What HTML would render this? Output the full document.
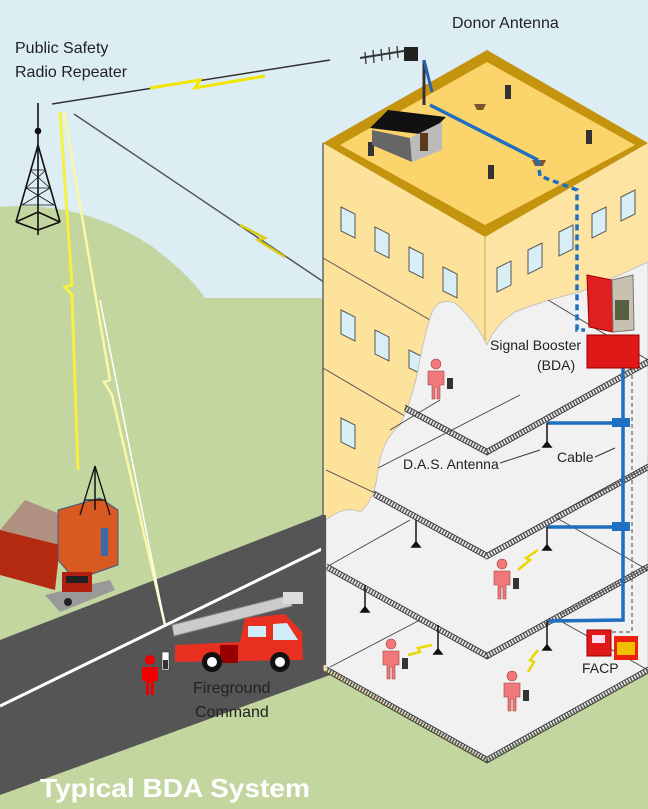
<!DOCTYPE html>
<html><head><meta charset="utf-8"><style>
html,body{margin:0;padding:0;background:#dcedf3}
svg{display:block}
text{font-family:"Liberation Sans",sans-serif;fill:#222}
</style></head><body>
<svg width="648" height="809" viewBox="0 0 648 809" xmlns="http://www.w3.org/2000/svg">
<rect width="648" height="809" fill="#dcedf3"/>
<path d="M0,207 Q80,200 150,245 Q190,275 205,298 L648,298 L648,809 L0,809 Z" fill="#c3d6a0"/>
<polygon points="0,640 330,512 330,675 0,795" fill="#555"/>
<line x1="0" y1="706" x2="330" y2="545" stroke="#fff" stroke-width="3"/>

<g stroke="#111" stroke-width="1.6" fill="none">
<line x1="38" y1="103" x2="38" y2="145"/>
<circle cx="38" cy="131" r="2.5" fill="#111"/>
<path d="M38,145 L16,222 M38,145 L60,222 M38,145 L38,235 M16,222 L38,212 L60,222 M16,222 L38,230 L60,222"/>
<path d="M30,170 L46,170 M26,188 L50,188 M22,205 L54,205 M30,170 L50,188 L22,205 M46,170 L26,188 L54,205" stroke-width="0.8"/>
</g>
<line x1="52" y1="104" x2="330" y2="60" stroke="#333" stroke-width="1.5"/>
<polyline points="150,88 200,80 195,88 265,76" fill="none" stroke="#f2e600" stroke-width="3"/>
<line x1="74" y1="114" x2="410" y2="340" stroke="#555" stroke-width="1.5"/>
<polyline points="240,225 265,238 258,240 285,257" fill="none" stroke="#d8cc10" stroke-width="2.5"/>
<polyline points="60,112 72,285 65,287 72,295 78,470" fill="none" stroke="#f6f040" stroke-width="3"/>
<polyline points="64,112 110,380 104,382 112,395 165,625" fill="none" stroke="#fbf7a8" stroke-width="2.5"/>
<line x1="100" y1="300" x2="165" y2="625" stroke="#fff" stroke-width="1.5"/>

<polygon points="323,143 485,237 485,760 323,670" fill="#fde29c"/>
<polygon points="485,237 648,143 648,670 485,760" fill="#fde4a2"/>
<line x1="485" y1="237" x2="485" y2="350" stroke="#caa860" stroke-width="1"/>
<line x1="323" y1="143" x2="323" y2="670" stroke="#666" stroke-width="1.5"/>
<line x1="323" y1="258" x2="430" y2="320" stroke="#555" stroke-width="1"/>
<line x1="323" y1="368" x2="420" y2="425" stroke="#555" stroke-width="1"/>
<polygon points="323,143 487,50 648,143 485,237" fill="#c4940f"/>
<polygon points="340,145 487,62 635,145 485,225" fill="#fcd46c"/>
<g fill="#d8eef5" stroke="#555" stroke-width="1">
<polygon points="341,207 355,214 355,238 341,231"/>
<polygon points="375,227 389,234 389,258 375,251"/>
<polygon points="409,247 423,254 423,278 409,271"/>
<polygon points="443,267 457,274 457,298 443,291"/>
<polygon points="341,310 355,317 355,341 341,334"/>
<polygon points="375,330 389,337 389,361 375,354"/>
<polygon points="409,350 423,357 423,375 409,368"/>
<polygon points="341,418 355,425 355,449 341,442"/>
<polygon points="497,268 511,261 511,285 497,292"/>
<polygon points="528,250 542,243 542,267 528,274"/>
<polygon points="559,232 573,225 573,249 559,256"/>
<polygon points="592,214 606,207 606,231 592,238"/>
<polygon points="621,197 635,190 635,214 621,221"/>
</g>
<path d="M326,520 Q345,505 360,512 Q375,500 378,470 Q382,440 400,425 Q412,400 418,370 Q425,330 433,310 Q440,298 455,303 Q475,320 487,345 Q495,325 515,312 Q545,300 580,292 Q620,275 648,262 L648,672 L487,760 L326,668 Z" fill="#f1f1f1" stroke="#bbb" stroke-width="0.8"/>
<rect x="321" y="515" width="5" height="150" fill="#555"/>
<g stroke="#444" stroke-width="0.9">
<line x1="548" y1="300" x2="648" y2="360"/>
<line x1="390" y1="430" x2="440" y2="400"/>
<line x1="326" y1="470" x2="375" y2="493"/>
<line x1="378" y1="468" x2="520" y2="395"/>
<line x1="555" y1="515" x2="648" y2="467"/>
<line x1="330" y1="565" x2="410" y2="520"/>
<line x1="555" y1="517" x2="648" y2="570"/>
<line x1="330" y1="667" x2="420" y2="620"/>
<line x1="555" y1="618" x2="648" y2="670"/>
<line x1="560" y1="615" x2="648" y2="567"/>
</g>
<g fill="none" stroke="#555" stroke-width="5" stroke-dasharray="1.5 1.5">
<polyline points="405,408 487,452 648,362"/>
<polyline points="374,494 487,556 648,467"/>
<polyline points="327,567 487,656 648,567"/>
<polyline points="327,670 487,760 648,670"/>
</g>
<g fill="none" stroke="#333" stroke-width="0.8">
<polyline points="405,405 487,449 648,359"/><polyline points="405,411 487,455 648,365"/>
<polyline points="374,491 487,553 648,464"/><polyline points="374,497 487,559 648,470"/>
<polyline points="327,564 487,653 648,564"/><polyline points="327,570 487,659 648,570"/>
<polyline points="327,667 487,757 648,667"/><polyline points="327,673 487,763 648,673"/>
</g>

<g fill="#333">
<rect x="368" y="142" width="6" height="14"/><rect x="488" y="165" width="6" height="14"/>
<rect x="505" y="85" width="6" height="14"/><rect x="586" y="130" width="6" height="14"/>
</g>
<path d="M474,104 L486,104 L483,110 L477,110Z M532,160 L546,160 L543,166 L535,166Z" fill="#7a5530"/>
<polygon points="370,128 388,110 446,117 428,135" fill="#111"/>
<polygon points="372,130 410,138 412,162 372,145" fill="#666"/>
<polygon points="410,138 442,122 442,150 412,162" fill="#bbb"/>
<rect x="420" y="133" width="8" height="18" fill="#5a3a1a"/>
<line x1="424" y1="60" x2="424" y2="105" stroke="#333" stroke-width="3"/>
<path d="M424,60 L432,92" stroke="#2a62b0" stroke-width="3" fill="none"/>
<line x1="360" y1="58" x2="410" y2="50" stroke="#333" stroke-width="2"/>
<g stroke="#333" stroke-width="1.3"><line x1="365" y1="52" x2="366" y2="64"/><line x1="373" y1="50" x2="374" y2="63"/><line x1="381" y1="49" x2="382" y2="61"/><line x1="389" y1="47" x2="390" y2="60"/><line x1="397" y1="46" x2="398" y2="58"/></g>
<rect x="404" y="47" width="14" height="14" fill="#222"/>
<g fill="none" stroke="#1f6fc0" stroke-width="3.5">
<path d="M430,105 L538,160"/>
<path d="M538,160 L540,176 L577,190 L577,330 L585,330" stroke-dasharray="6 4"/>
<path d="M623,368 L623,620 L548,621"/>
<path d="M623,423 L547,423 M623,527 L547,527"/>
</g>
<g fill="#1f6fc0"><rect x="612" y="418" width="18" height="9"/><rect x="612" y="522" width="18" height="9"/></g>
<path d="M632,368 L632,632 L610,632" fill="none" stroke="#666" stroke-width="1.2" stroke-dasharray="4 3"/>
<polygon points="587,275 612,280 613,332 589,327" fill="#e02020" stroke="#900"/>
<polygon points="612,280 633,275 634,330 613,332" fill="#c8c0b0" stroke="#777"/>
<rect x="615" y="300" width="14" height="20" fill="#576040"/>
<rect x="587" y="335" width="52" height="33" fill="#e01818" stroke="#900"/>
<rect x="587" y="630" width="24" height="26" fill="#e01818" stroke="#900"/>
<rect x="592" y="635" width="13" height="8" fill="#fde"/>
<rect x="614" y="636" width="24" height="24" fill="#f02010"/>
<rect x="617" y="642" width="18" height="13" fill="#f0c000"/>
<g stroke="#111" stroke-width="1.5" fill="#111">
<line x1="547" y1="423" x2="547" y2="445"/><path d="M543,447 L547,442 L551,447Z"/>
<line x1="547" y1="527" x2="547" y2="548"/><path d="M543,550 L547,545 L551,550Z"/>
<line x1="547" y1="621" x2="547" y2="648"/><path d="M543,650 L547,645 L551,650Z"/>
<line x1="416" y1="520" x2="416" y2="545"/><path d="M412,547 L416,542 L420,547Z"/>
<line x1="365" y1="585" x2="365" y2="610"/><path d="M361,612 L365,607 L369,612Z"/>
<line x1="438" y1="625" x2="438" y2="652"/><path d="M434,654 L438,649 L442,654Z"/>
</g>
<line x1="500" y1="463" x2="540" y2="450" stroke="#333" stroke-width="1"/>
<line x1="595" y1="457" x2="615" y2="448" stroke="#333" stroke-width="1"/>
<g fill="none" stroke="#e8d800" stroke-width="2.5">
<polyline points="518,570 530,560 526,558 538,550"/>
<polyline points="408,655 420,652 418,648 432,645"/>
<polyline points="528,672 534,662 530,660 538,650"/>
</g>
<defs><g id="p"><circle cx="0" cy="-15" r="5"/><path d="M-8,-8 L8,-8 L8,6 L4,6 L4,20 L1,20 L1,8 L-1,8 L-1,20 L-4,20 L-4,6 L-8,6Z"/></g></defs>
<g fill="#f07878" stroke="#a04040" stroke-width="0.6">
<use href="#p" x="436" y="379"/><use href="#p" x="502" y="579"/>
<use href="#p" x="391" y="659"/><use href="#p" x="512" y="691"/>
</g>
<g fill="#333"><rect x="447" y="378" width="6" height="11"/><rect x="513" y="578" width="6" height="11"/><rect x="402" y="658" width="6" height="11"/><rect x="523" y="690" width="6" height="11"/></g>
<use href="#p" x="150" y="675" fill="#e00"/>
<rect x="162" y="652" width="7" height="18" fill="#fff" stroke="#333" stroke-width="0.6"/><rect x="163" y="660" width="5" height="9" fill="#333"/>

<polygon points="0,530 25,500 75,520 60,545" fill="#b09080"/>
<polygon points="0,530 60,545 55,590 0,575" fill="#b32a10"/>
<polygon points="58,510 100,498 118,510 118,565 75,580 58,560" fill="#d85a20" stroke="#3a5a8a"/>
<line x1="95" y1="466" x2="95" y2="510" stroke="#111" stroke-width="1.5"/>
<path d="M95,466 L80,515 M95,466 L110,515 M85,500 L105,500" stroke="#111" stroke-width="1.3" fill="none"/>
<rect x="101" y="528" width="7" height="28" fill="#3a6aa8"/>
<polygon points="45,595 110,580 115,590 60,612" fill="#999"/>
<rect x="62" y="572" width="30" height="20" fill="#b02010"/><rect x="66" y="576" width="22" height="7" fill="#222"/>
<circle cx="68" cy="602" r="4" fill="#222"/>
<polygon points="172,625 290,595 292,606 174,636" fill="#ccc" stroke="#888"/>
<rect x="283" y="592" width="20" height="12" fill="#ddd"/>
<path d="M175,645 L240,642 L245,618 L285,614 L302,632 L303,660 L175,662Z" fill="#e83020"/>
<rect x="248" y="626" width="18" height="11" fill="#d0ecf8"/><polygon points="273,624 287,623 298,640 273,640" fill="#d0ecf8"/>
<rect x="220" y="645" width="18" height="18" fill="#900"/>
<circle cx="212" cy="662" r="10" fill="#111"/><circle cx="212" cy="662" r="5" fill="#fff"/>
<circle cx="280" cy="662" r="10" fill="#111"/><circle cx="280" cy="662" r="5" fill="#fff"/>

<text x="452" y="28" font-size="16">Donor Antenna</text>
<text x="15" y="53" font-size="16">Public Safety</text>
<text x="15" y="77" font-size="16">Radio Repeater</text>
<text x="490" y="350" font-size="14">Signal Booster</text>
<text x="537" y="370" font-size="14">(BDA)</text>
<text x="403" y="469" font-size="14">D.A.S. Antenna</text>
<text x="557" y="462" font-size="14">Cable</text>
<text x="582" y="673" font-size="14">FACP</text>
<text x="193" y="693" font-size="16">Fireground</text>
<text x="195" y="717" font-size="16">Command</text>
<text x="40" y="797" font-size="26" font-weight="bold" textLength="270" lengthAdjust="spacingAndGlyphs" style="fill:#fff">Typical BDA System</text>
</svg>
</body></html>
